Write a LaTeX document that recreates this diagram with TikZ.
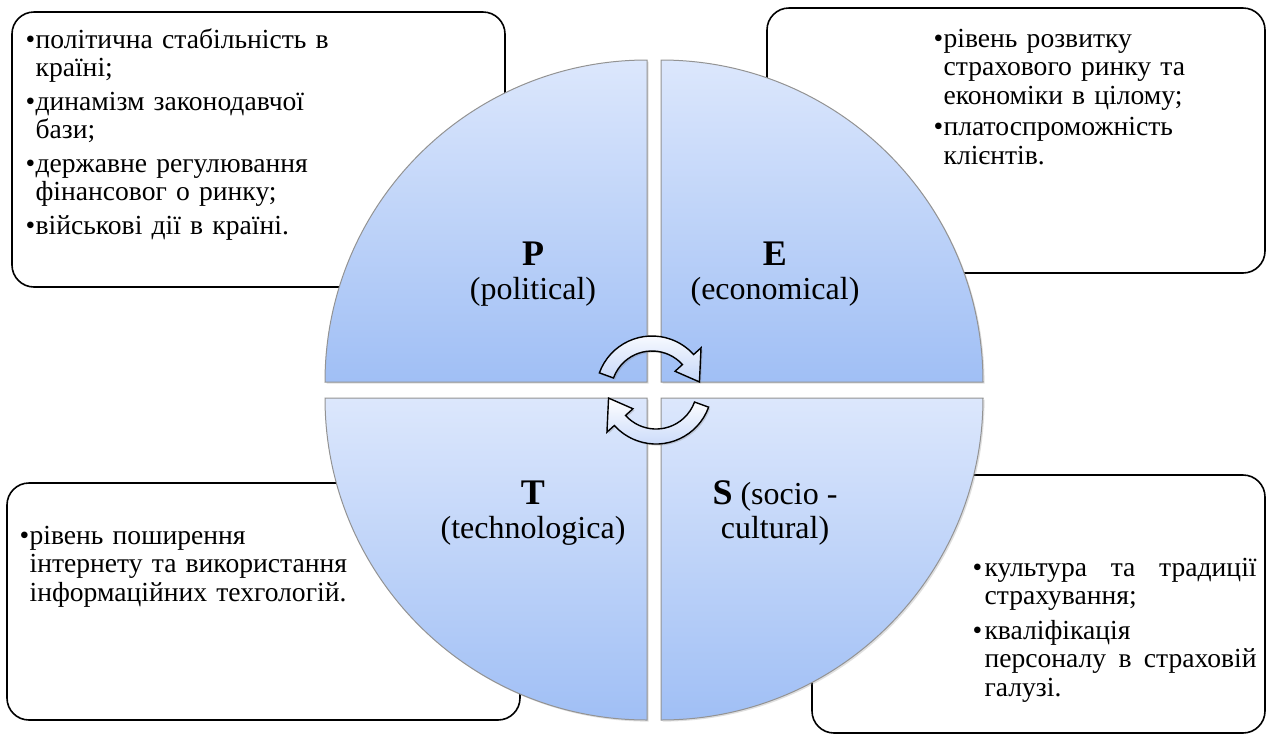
\documentclass[tikz,border=0pt]{standalone}
\usepackage{fontspec}
\setmainfont{Liberation Serif}
\usepackage{tikz}
\usetikzlibrary{positioning,calc,shadows}

\definecolor{qtop}{RGB}{220,231,252}
\definecolor{qbot}{RGB}{160,191,245}
\definecolor{abot}{RGB}{196,214,249}

\newlength{\bulw}
\setlength{\bulw}{5pt}
\newcommand{\bitem}[1]{\par\noindent\hangindent=\bulw\hangafter=1%
  \makebox[\bulw][l]{\textbullet}\strut#1\par}
\newcommand{\letterfont}{\fontsize{18}{20}\selectfont\bfseries}

\begin{document}
\begin{tikzpicture}[x=0.5pt, y=-0.5pt,
  font=\fontsize{13.8}{14.25}\selectfont,
  box/.style ={rectangle, draw=black, line width=0.8pt,
               rounded corners=11pt, fill=white},
  txt/.style ={inner sep=0pt, align=left},
  quad/.style={draw=gray!85, line width=0.5pt,
               top color=qtop, bottom color=qbot,
               drop shadow={shadow xshift=0.8pt, shadow yshift=-0.8pt,
                            opacity=0.25}},
  lbl/.style ={align=center, inner sep=0pt,
               font=\fontsize{16}{17}\selectfont},
  cyc/.style ={draw=black, line width=0.7pt,
               top color=white, bottom color=abot,
               drop shadow={shadow xshift=0.8pt, shadow yshift=-0.8pt,
                            opacity=0.3}},
]
\useasboundingbox (0,0) rectangle (1271,735);

% === Factor boxes ===
\node[box, minimum width=246.5pt, minimum height=137.5pt] (pBox) at (258.5,149.5) {};
\node[box, minimum width=249pt,   minimum height=132.5pt] (eBox) at (1016,140.5) {};
\node[box, minimum width=256.5pt, minimum height=118.5pt] (tBox) at (263.5,601.5) {};
\node[box, minimum width=226.5pt, minimum height=129pt]   (sBox) at (1038.5,604) {};

\node[txt, text width=200pt, below right=1.5pt and 7pt of pBox.north west] (pTxt)
  {\setlength{\parskip}{2.5pt}%
   \bitem{політична стабільність в\newline країні;}
   \bitem{динамізм законодавчої\newline бази;}
   \bitem{державне регулювання\newline фінансовог о ринку;}
   \bitem{військові дії в країні.}};

\node[txt, text width=155pt, below right=4pt and 83.5pt of eBox.north west] (eTxt)
  {\setlength{\parskip}{1.5pt}%
   \bitem{рівень розвитку\newline страхового ринку та\newline економіки в цілому;}
   \bitem{платоспроможність\newline клієнтів.}};

\node[txt, text width=200pt, below right=16.5pt and 6.5pt of tBox.north west] (tTxt)
  {\bitem{рівень поширення\newline інтернету та використання\newline інформаційних техгологій.}};

\node[txt, align=justify, text width=142pt,
      below right=33.5pt and 80.5pt of sBox.north west] (sTxt)
  {\setlength{\parskip}{3pt}\setlength{\bulw}{6pt}%
   \bitem{культура та традиції\linebreak страхування;}
   \bitem{кваліфікація\newline персоналу в страховій\linebreak галузі.}};

% === Circle quarters ===
\path[quad] (647,382) -- (325,382) arc[start angle=180, end angle=270, radius=322] -- cycle;
\path[quad] (661,382) -- (661,60)  arc[start angle=270, end angle=360, radius=322] -- cycle;
\path[quad] (661,398) -- (983,398) arc[start angle=0,   end angle=90,  radius=322] -- cycle;
\path[quad] (647,398) -- (647,720) arc[start angle=90,  end angle=180, radius=322] -- cycle;

\node[lbl] (pLbl) at (533,274) {{\letterfont P}\\(political)};
\node[lbl] (eLbl) at (775,274) {{\letterfont E}\\(economical)};
\node[lbl] (tLbl) at (533,513) {{\letterfont T}\\(technologica)};
\node[lbl] (sLbl) at (775,513) {{\letterfont S} (socio -\\cultural)};

% === Cycle arrows ===
\coordinate (c1) at (652,392);
\coordinate (c2) at (656,388);
\path[cyc] ($(c1)+(200:56)$) arc[start angle=200, end angle=318, radius=56]
  -- ($(c1)+(318:66)$) -- ($(c1)+(348:48.5)$) -- ($(c1)+(318:31)$)
  -- ($(c1)+(318:41)$) arc[start angle=318, end angle=200, radius=41] -- cycle;
\path[cyc] ($(c2)+(20:56)$) arc[start angle=20, end angle=138, radius=56]
  -- ($(c2)+(138:66)$) -- ($(c2)+(168:48.5)$) -- ($(c2)+(138:31)$)
  -- ($(c2)+(138:41)$) arc[start angle=138, end angle=20, radius=41] -- cycle;

\end{tikzpicture}
\end{document}
